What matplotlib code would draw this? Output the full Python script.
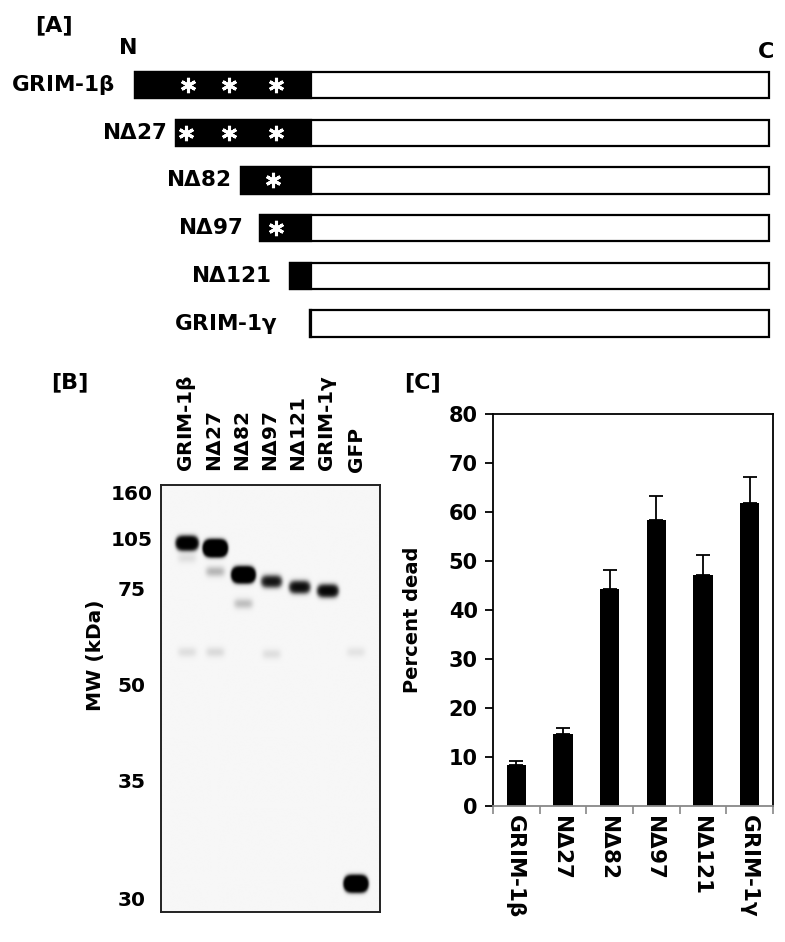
import numpy as np
import matplotlib
matplotlib.use("Agg")
import matplotlib.pyplot as plt
from matplotlib.patches import Rectangle

plt.rcParams["font.family"] = ["DejaVu Sans"]
plt.rcParams["font.weight"] = "bold"
plt.rcParams["mathtext.fontset"] = "custom"
plt.rcParams["mathtext.rm"] = "DejaVu Sans"

# ---- data ----
# construct names (used in all three panels)
constructs = [r"GRIM-1$\mathrm{\beta}$", r"N$\mathrm{\Delta}$27", r"N$\mathrm{\Delta}$82",
              r"N$\mathrm{\Delta}$97", r"N$\mathrm{\Delta}$121", r"GRIM-1$\mathrm{\gamma}$"]

# [A] schematic, arbitrary units along the protein (not to scale)
construct_start = [0, 41, 106, 125, 155, 175]
domain_end = 176
protein_end = 634
motif_sites = [[53, 94, 141], [51, 94, 141], [138], [141], [], []]

# [B] western blot
lane_names = constructs + ["GFP"]
marker_kda = [160, 105, 75, 50, 35, 30]
marker_pos = [7, 53, 103, 200, 296, 413]      # migration distance
band_lane = [0, 1, 2, 3, 4, 5, 6, 0, 1, 2, 0, 1, 3, 6]
band_kda = [102, 99, 83, 79, 75.6, 74.3, 30.6, 93, 85, 71, 58.5, 58.5, 58, 58.5]
band_amount = [8, 30, 20, 2.5, 3.0, 3.6, 25, 0.1, 0.3, 0.25, 0.1, 0.12, 0.1, 0.08]

# [C] cell death
percent_dead = [8.3, 14.6, 44.3, 58.3, 47.2, 61.9]
percent_err = [0.8, 1.3, 3.9, 5.0, 4.1, 5.3]

W, H = 785, 942
fig = plt.figure(figsize=(W / 100, H / 100), dpi=100)


def fx(px):
    return px / W


def fy(py):
    return 1 - py / H


# ---- panel A ----
top_h = 345
ax_a = fig.add_axes([0, fy(top_h), 1, top_h / H])
ax_a.set_xlim(-135, W - 135)
row_px = 47.7
ax_a.set_ylim((top_h - 85) / row_px, -85 / row_px)
ax_a.axis("off")
bar_h = 0.55
label_gap = [20, 9, 10, 17, 19, 32]
for i, name in enumerate(constructs):
    s = construct_start[i]
    ax_a.add_patch(Rectangle((s, i - bar_h / 2), protein_end - s, bar_h,
                             facecolor="white", edgecolor="black", lw=1.6))
    if s < domain_end:
        ax_a.add_patch(Rectangle((s, i - bar_h / 2), domain_end - s, bar_h,
                                 facecolor="black", edgecolor="black", lw=1.6))
    if motif_sites[i]:
        ax_a.plot(motif_sites[i], [i] * len(motif_sites[i]), ls="none",
                  marker=(6, 2, 0), ms=11, mew=2.2, color="white")
    ax_a.text(s - label_gap[i], i, name, ha="right", va="center",
              fontsize=15.5, fontweight="bold")

fig.text(fx(54), fy(25), "[A]", ha="center", va="center", fontsize=16, fontweight="bold")
fig.text(fx(128), fy(48), "N", ha="center", va="center", fontsize=16, fontweight="bold")
fig.text(fx(766), fy(52), "C", ha="center", va="center", fontsize=16, fontweight="bold")

# ---- panel B ----
bx0, bx1, by0, by1 = 161, 380, 485, 912
ax_b = fig.add_axes([fx(bx0), fy(by1), (bx1 - bx0) / W, (by1 - by0) / H])
lane_px, lane0_px = 28.2, 187
xl = ((bx0 - lane0_px) / lane_px, (bx1 - lane0_px) / lane_px)
ylen = by1 - by0
gx = np.linspace(xl[0], xl[1], 440)
gy = np.linspace(0, ylen, 860)
X, Y = np.meshgrid(gx, gy)
dark = np.zeros_like(X)
for lane, kda, amt in zip(band_lane, band_kda, band_amount):
    y0 = np.interp(kda, marker_kda[::-1], marker_pos[::-1])
    dark += amt * np.exp(-((X - lane) / 0.33) ** 4) * np.exp(-0.5 * ((Y - y0) / 3.5) ** 2)
img = 0.967 * np.exp(-dark)
ax_b.imshow(img, cmap="gray", vmin=0, vmax=1, extent=(xl[0], xl[1], ylen, 0),
            aspect="auto", interpolation="bilinear")
ax_b.set_xlim(*xl)
ax_b.set_ylim(ylen, 0)
ax_b.xaxis.tick_top()
ax_b.set_xticks(range(len(lane_names)))
ax_b.set_xticklabels(lane_names, rotation=90, fontsize=14.5, fontweight="bold")
ax_b.set_yticks(marker_pos)
ax_b.set_yticklabels([str(k) for k in marker_kda], fontsize=14.5, fontweight="bold",
                     ha="center")
ax_b.tick_params(axis="x", length=0, pad=9)
ax_b.tick_params(axis="y", length=0, pad=21)
for sp in ax_b.spines.values():
    sp.set_linewidth(1.4)
    sp.set_color("#222222")
fig.text(fx(95), fy(655), "MW (kDa)", rotation=90, ha="center", va="center",
         fontsize=14.5, fontweight="bold")
fig.text(fx(70), fy(382), "[B]", ha="center", va="center", fontsize=16, fontweight="bold")

# ---- panel C ----
cx0, cx1, cy0, cy1 = 493, 773, 414, 806
ax_c = fig.add_axes([fx(cx0), fy(cy1), (cx1 - cx0) / W, (cy1 - cy0) / H])
pos = np.arange(len(constructs)) + 0.5
ax_c.bar(pos, percent_dead, width=0.42, color="black")
ax_c.errorbar(pos, percent_dead, yerr=[np.zeros(len(percent_err)), percent_err],
              fmt="none", ecolor="black", elinewidth=1.3, capsize=5, capthick=1.3)
ax_c.set_xlim(0, len(constructs))
ax_c.set_ylim(0, 80)
ax_c.set_yticks(range(0, 81, 10))
ax_c.set_xticks(pos)
ax_c.set_xticklabels(constructs, rotation=270, fontsize=15.5, fontweight="bold")
ax_c.set_xticks(range(len(constructs) + 1), minor=True)
ax_c.tick_params(axis="x", which="major", length=0, pad=5)
ax_c.tick_params(axis="x", which="minor", length=6, width=1.2, color="#888888", direction="out")
ax_c.tick_params(axis="y", length=6, width=1.3, direction="out", labelsize=15, pad=5)
for lbl in ax_c.get_yticklabels():
    lbl.set_fontweight("bold")
for name, sp in ax_c.spines.items():
    sp.set_linewidth(1.3)
ax_c.spines["bottom"].set_color("#888888")
fig.text(fx(413), fy(620), "Percent dead", rotation=90, ha="center", va="center",
         fontsize=14, fontweight="bold")
fig.text(fx(423), fy(382), "[C]", ha="center", va="center", fontsize=16, fontweight="bold")

fig.savefig("out.png", dpi=100)
